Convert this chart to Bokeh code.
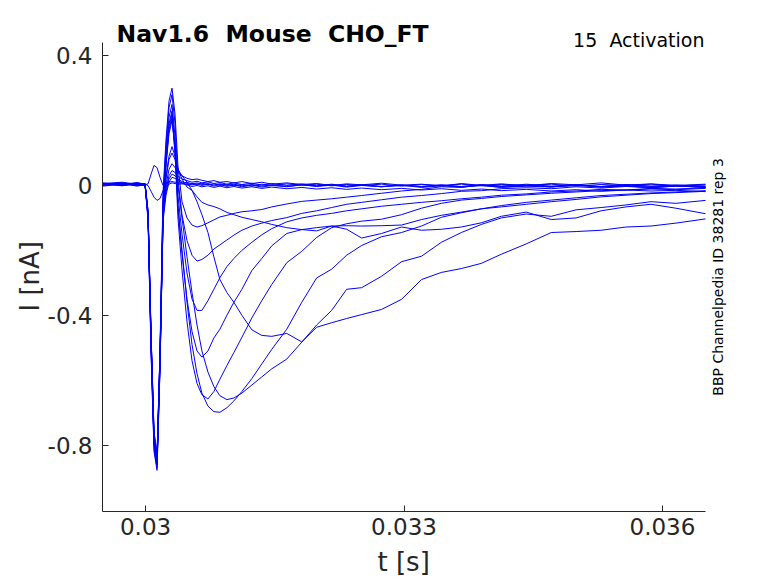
import math
from bokeh.plotting import figure
from bokeh.models import Range1d, Label, FixedTicker, Title
from bokeh.embed import file_html
from bokeh.resources import INLINE

# time grid (ms)
t_ms = [29.500, 29.728, 29.902, 29.994, 30.029, 30.064, 30.098, 30.133, 30.168, 30.203,
        30.237, 30.272, 30.307, 30.342, 30.376, 30.423, 30.481, 30.539, 30.597, 30.654,
        30.724, 30.793, 30.863, 30.944, 31.025, 31.118, 31.234, 31.349, 31.465, 31.639,
        31.813, 31.986, 32.160, 32.334, 32.508, 32.739, 32.971, 33.203, 33.434, 33.666,
        33.898, 34.129, 34.419, 34.709, 34.998, 35.288, 35.577, 35.867, 36.156, 36.500]

# currents (nA), one list per sweep
i_s1 = [0.006, 0.001, 0.005, 0.002, 0.005, 0.035, 0.062, 0.055, 0.025, 0.000,
        -0.005, 0.004, 0.008, 0.006, 0.004, 0.005, 0.002, 0.006, 0.003, 0.007,
        0.002, 0.005, 0.000, 0.004, -0.001, 0.003, -0.002, 0.004, 0.000, 0.005,
        0.001, 0.004, -0.001, 0.003, 0.000, 0.004, -0.002, 0.003, 0.000, 0.004,
        -0.001, 0.003, 0.000, 0.004, -0.002, 0.003, 0.000, 0.004, -0.001, 0.002]
i_s2 = [0.003, 0.007, 0.001, 0.004, 0.000, -0.018, -0.036, -0.046, -0.040, -0.016,
        0.004, 0.010, 0.012, 0.010, 0.009, 0.007, 0.010, 0.005, 0.008, 0.003,
        0.006, 0.001, 0.005, 0.000, 0.004, -0.001, 0.003, -0.002, 0.002, -0.003,
        0.002, -0.002, 0.003, -0.003, 0.001, -0.004, 0.000, -0.003, 0.002, -0.004,
        0.000, -0.005, -0.001, -0.004, 0.001, -0.005, -0.002, -0.006, -0.001, -0.006]
i_n1 = [0.008, 0.003, 0.009, 0.004, -0.10, -0.51, -0.81, -0.87, -0.56, -0.10,
        0.00, 0.05, 0.067, 0.055, 0.04, 0.03, 0.022, 0.018, 0.02, 0.016,
        0.012, 0.015, 0.010, 0.012, 0.008, 0.012, 0.006, 0.010, 0.004, 0.008,
        0.003, 0.006, 0.000, 0.005, 0.002, 0.007, 0.001, 0.004, -0.002, 0.006,
        0.000, 0.005, -0.001, 0.006, 0.002, 0.008, 0.001, 0.005, 0.000, 0.004]
i_n2 = [0.000, 0.006, -0.002, 0.003, -0.09, -0.49, -0.79, -0.85, -0.54, -0.10,
        -0.01, 0.03, 0.046, 0.04, 0.028, 0.02, 0.015, 0.010, 0.013, 0.008,
        0.011, 0.006, 0.009, 0.004, 0.008, 0.003, 0.007, 0.001, 0.006, 0.000,
        0.005, -0.001, 0.004, -0.002, 0.003, -0.003, 0.002, -0.004, 0.001, -0.003,
        0.003, -0.002, 0.002, -0.004, 0.000, -0.003, 0.003, -0.002, 0.001, -0.003]
i_n3 = [0.005, 0.000, 0.004, 0.001, -0.08, -0.46, -0.76, -0.83, -0.52, -0.09,
        -0.02, 0.02, 0.035, 0.03, 0.02, 0.012, 0.006, 0.002, 0.005, 0.000,
        0.004, -0.002, 0.003, -0.003, 0.002, -0.004, 0.001, -0.005, 0.000, -0.004,
        0.002, -0.003, 0.001, -0.005, 0.000, -0.004, 0.001, -0.006, -0.001, -0.005,
        0.000, -0.006, -0.002, -0.005, 0.001, -0.004, -0.001, -0.006, -0.002, -0.005]
i_n4 = [-0.002, 0.004, 0.002, 0.000, -0.09, -0.48, -0.79, -0.86, -0.55, -0.11,
        -0.03, 0.01, 0.025, 0.022, 0.015, 0.008, 0.002, -0.003, 0.000, -0.004,
        -0.001, -0.006, -0.002, -0.007, -0.003, -0.008, -0.004, -0.009, -0.005, -0.010,
        -0.006, -0.011, -0.007, -0.012, -0.008, -0.013, -0.009, -0.014, -0.010, -0.015,
        -0.011, -0.016, -0.012, -0.017, -0.013, -0.018, -0.014, -0.017, -0.015, -0.019]
i_f9 = [0.002, 0.006, 0.000, 0.004, -0.09, -0.47, -0.77, -0.84, -0.53, -0.10,
        0.02, 0.08, 0.10, 0.08, 0.05, 0.03, 0.01, -0.015, -0.035, -0.052,
        -0.06, -0.065, -0.072, -0.083, -0.09, -0.098, -0.105, -0.112, -0.12, -0.13,
        -0.136, -0.14, -0.125, -0.135, -0.162, -0.148, -0.128, -0.138, -0.135, -0.128,
        -0.115, -0.095, -0.082, -0.105, -0.100, -0.078, -0.066, -0.058, -0.070, -0.087]
i_f8 = [0.004, 0.008, 0.002, 0.005, -0.09, -0.48, -0.78, -0.85, -0.54, -0.10,
        0.03, 0.09, 0.12, 0.09, 0.05, 0.02, -0.005, -0.015, -0.05, -0.09,
        -0.145, -0.22, -0.29, -0.33, -0.36, -0.40, -0.445, -0.462, -0.465, -0.456,
        -0.482, -0.437, -0.423, -0.41, -0.398, -0.382, -0.351, -0.29, -0.268, -0.256,
        -0.24, -0.212, -0.18, -0.145, -0.142, -0.138, -0.128, -0.125, -0.116, -0.103]
i_f7 = [0.001, 0.005, 0.003, 0.006, -0.08, -0.46, -0.76, -0.83, -0.51, -0.06,
        0.06, 0.16, 0.20, 0.12, 0.00, -0.10, -0.22, -0.33, -0.43, -0.51,
        -0.575, -0.62, -0.648, -0.66, -0.655, -0.64, -0.615, -0.59, -0.565, -0.535,
        -0.483, -0.43, -0.385, -0.32, -0.315, -0.28, -0.235, -0.218, -0.175, -0.145,
        -0.12, -0.10, -0.088, -0.095, -0.075, -0.068, -0.060, -0.050, -0.055, -0.046]
i_f6 = [0.007, 0.001, 0.005, 0.003, -0.10, -0.49, -0.79, -0.85, -0.53, -0.07,
        0.07, 0.17, 0.21, 0.10, -0.06, -0.20, -0.36, -0.49, -0.58, -0.64,
        -0.68, -0.697, -0.699, -0.685, -0.664, -0.635, -0.595, -0.55, -0.505, -0.443,
        -0.36, -0.285, -0.258, -0.215, -0.185, -0.158, -0.145, -0.125, -0.098, -0.084,
        -0.072, -0.062, -0.052, -0.045, -0.038, -0.031, -0.027, -0.023, -0.020, -0.016]
i_f5 = [0.003, 0.006, 0.000, 0.004, -0.11, -0.52, -0.82, -0.878, -0.56, -0.08,
        0.07, 0.18, 0.22, 0.10, -0.10, -0.26, -0.42, -0.54, -0.61, -0.645,
        -0.658, -0.635, -0.597, -0.555, -0.515, -0.468, -0.408, -0.355, -0.305, -0.238,
        -0.203, -0.160, -0.130, -0.118, -0.110, -0.104, -0.090, -0.070, -0.055, -0.045,
        -0.040, -0.034, -0.029, -0.024, -0.020, -0.016, -0.014, -0.011, -0.013, -0.009]
i_f4 = [0.005, -0.001, 0.006, 0.002, -0.09, -0.47, -0.77, -0.84, -0.52, -0.07,
        0.08, 0.19, 0.23, 0.12, -0.07, -0.21, -0.35, -0.45, -0.51, -0.529,
        -0.51, -0.47, -0.443, -0.40, -0.36, -0.32, -0.262, -0.225, -0.186, -0.148,
        -0.136, -0.130, -0.125, -0.124, -0.125, -0.124, -0.122, -0.105, -0.092, -0.082,
        -0.072, -0.066, -0.058, -0.050, -0.043, -0.035, -0.030, -0.025, -0.022, -0.018]
i_f3 = [0.002, 0.007, 0.001, 0.005, -0.10, -0.50, -0.80, -0.86, -0.54, -0.06,
        0.10, 0.21, 0.25, 0.15, -0.03, -0.15, -0.27, -0.35, -0.385, -0.385,
        -0.355, -0.320, -0.284, -0.250, -0.225, -0.200, -0.175, -0.152, -0.133, -0.112,
        -0.100, -0.092, -0.086, -0.078, -0.072, -0.064, -0.058, -0.052, -0.047, -0.041,
        -0.036, -0.030, -0.026, -0.020, -0.017, -0.012, -0.014, -0.009, -0.011, -0.007]
i_f2 = [0.004, 0.002, 0.008, 0.003, -0.09, -0.47, -0.78, -0.85, -0.52, -0.04,
        0.12, 0.24, 0.28, 0.19, 0.02, -0.09, -0.17, -0.215, -0.233, -0.228,
        -0.215, -0.196, -0.183, -0.168, -0.153, -0.138, -0.125, -0.116, -0.108, -0.099,
        -0.086, -0.078, -0.068, -0.058, -0.052, -0.044, -0.036, -0.031, -0.025, -0.018,
        -0.016, -0.010, -0.007, -0.010, -0.004, -0.008, -0.003, -0.007, -0.002, -0.005]
i_f1 = [0.006, 0.010, 0.004, 0.006, -0.08, -0.48, -0.79, -0.86, -0.50, -0.02,
        0.14, 0.26, 0.30, 0.22, 0.06, -0.05, -0.10, -0.122, -0.128, -0.124,
        -0.115, -0.106, -0.097, -0.092, -0.086, -0.081, -0.078, -0.074, -0.066, -0.057,
        -0.049, -0.045, -0.041, -0.036, -0.031, -0.024, -0.017, -0.012, -0.004, -0.006,
        0.002, -0.003, 0.004, -0.002, 0.003, -0.004, 0.002, -0.003, 0.001, -0.002]

sweeps = [i_s1, i_s2, i_n1, i_n2, i_n3, i_n4, i_f9, i_f8, i_f7, i_f6, i_f5, i_f4, i_f3, i_f2, i_f1]

x_ticks = [0.03, 0.033, 0.036]
x_tick_labels = ["0.03", "0.033", "0.036"]
y_ticks = [-0.8, -0.4, 0.0, 0.4]
y_tick_labels = ["-0.8", "-0.4", "0", "0.4"]
x_lim = (0.0295, 0.0365)
y_lim = (-1.0048, 0.44)

title_text = "Nav1.6\u00a0 Mouse\u00a0 CHO_FT"
corner_text = "15\u00a0 Activation"
side_text = "BBP Channelpedia ID 38281 rep 3"
x_label = "t [s]"
y_label = "I [nA]"

FONT = "DejaVu Sans"
AX = "#262626"

# frame reaches the top and right edges so the texts there are not clipped;
# the axes themselves are bounded to the data box
p = figure(width=778, height=583, output_backend="svg", toolbar_location=None,
           x_range=Range1d(0.0295, 0.037347), y_range=Range1d(-1.0048, 0.5701),
           min_border_left=102, min_border_right=0, min_border_top=0, min_border_bottom=70)
p.outline_line_color = None
p.xgrid.visible = False
p.ygrid.visible = False
p.background_fill_color = "white"
p.border_fill_color = "white"

t_s = [v / 1000.0 for v in t_ms]
for ys in sweeps:
    p.line(t_s, ys, line_color="#0000FF", line_width=1)

for ax in (p.xaxis[0], p.yaxis[0]):
    ax.axis_line_color = AX
    ax.axis_line_width = 1
    ax.major_tick_line_color = AX
    ax.major_tick_in = 6
    ax.major_tick_out = 0
    ax.minor_tick_line_color = None
    ax.major_label_text_font = FONT
    ax.major_label_text_font_size = "23px"
    ax.major_label_text_color = AX

xa = p.xaxis[0]
xa.bounds = x_lim
xa.ticker = FixedTicker(ticks=x_ticks)
xa.major_label_overrides = {k: v for k, v in zip(x_ticks, x_tick_labels)}
xa.major_label_standoff = 6

ya = p.yaxis[0]
ya.bounds = y_lim
ya.ticker = FixedTicker(ticks=y_ticks)
ya.major_label_overrides = {k: v for k, v in zip(y_ticks, y_tick_labels)}
ya.major_label_standoff = 10

# axis labels as side titles, shifted to sit centred on the bounded axes
p.add_layout(Title(text=x_label, align="left", offset=275, standoff=14,
                   text_font=FONT, text_font_size="26px", text_font_style="normal",
                   text_color=AX), "below")
p.add_layout(Title(text=y_label, align="left", offset=200, standoff=0,
                   text_font=FONT, text_font_size="26px", text_font_style="normal",
                   text_color=AX), "left")

p.add_layout(Label(x=0.029663, y=0.4667, text=title_text, text_font=FONT,
                   text_font_size="23.5px", text_font_style="bold", text_color="black",
                   text_align="left", text_baseline="alphabetic"))
p.add_layout(Label(x=0.036488, y=0.4473, text=corner_text, text_font=FONT,
                   text_font_size="19px", text_color="black",
                   text_align="right", text_baseline="alphabetic"))
p.add_layout(Label(x=0.036639, y=-0.2818, text=side_text, text_font=FONT, angle=math.pi / 2,
                   text_font_size="14px", text_color="black",
                   text_align="center", text_baseline="middle"))

open("out.html", "w").write(file_html(p, INLINE))
